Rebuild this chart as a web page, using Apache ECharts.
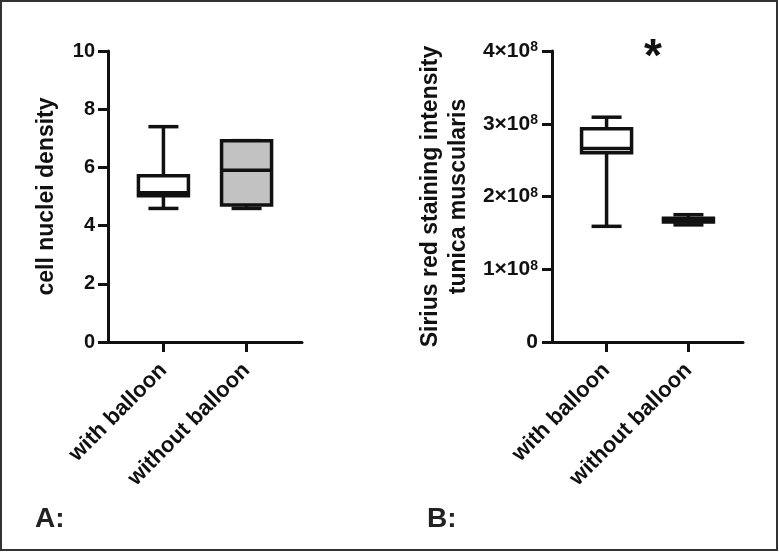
<!DOCTYPE html>
<html>
<head>
<meta charset="utf-8">
<script src="https://cdn.jsdelivr.net/npm/echarts@6/dist/echarts.min.js"></script>
<style>
  html, body { margin: 0; padding: 0; background: #fff; }
  #chart { width: 779px; height: 552px; }
</style>
</head>
<body>
<div id="chart"></div>
<script>
  // categories and box values (min, Q1, median, Q3, max)
  const categories = ['with balloon', 'without balloon']
  const nucleiWith = [4.59, 5.03, 5.13, 5.71, 7.40]
  const nucleiWithout = [4.59, 4.71, 5.90, 6.92, 6.92]
  const siriusWith = [1.59e8, 2.60e8, 2.66e8, 2.93e8, 3.09e8]
  const siriusWithout = [1.61e8, 1.65e8, 1.67e8, 1.70e8, 1.75e8]
  const boxFills = ['#ffffff', '#c2c2c2']

  const nucleiTicks = [0, 2, 4, 6, 8, 10]
  const siriusTicks = [0, 1e8, 2e8, 3e8, 4e8]

  // padded category axis so the two groups sit at 2/7 and 5/7 of the axis
  const xCats = ['', '', categories[0], '', '', categories[1], '', '']
  const showCat = (i) => i === 2 || i === 5

  const ink = '#111'
  const font = 'Liberation Sans, Arial, Helvetica, sans-serif'

  function renderBox(params, api) {
    const x = api.value(0)
    const px = [1, 2, 3, 4, 5].map(i => api.coord([x, api.value(i)]))
    const cx = px[0][0]
    const yMin = px[0][1], yQ1 = px[1][1], yMed = px[2][1], yQ3 = px[3][1], yMax = px[4][1]
    const boxHalf = 25
    const capHalf = 15
    const line = { stroke: ink, lineWidth: 3.5 }
    return {
      type: 'group',
      children: [
        { type: 'line', shape: { x1: cx, y1: yMax, x2: cx, y2: yQ3 }, style: line },
        { type: 'line', shape: { x1: cx, y1: yQ1, x2: cx, y2: yMin }, style: line },
        { type: 'line', shape: { x1: cx - capHalf, y1: yMax, x2: cx + capHalf, y2: yMax }, style: line },
        { type: 'line', shape: { x1: cx - capHalf, y1: yMin, x2: cx + capHalf, y2: yMin }, style: line },
        {
          type: 'rect',
          shape: { x: cx - boxHalf, y: yQ3, width: boxHalf * 2, height: yQ1 - yQ3 },
          style: { fill: boxFills[params.dataIndex], stroke: ink, lineWidth: 3.5 }
        },
        { type: 'line', shape: { x1: cx - boxHalf, y1: yMed, x2: cx + boxHalf, y2: yMed }, style: line }
      ]
    }
  }

  function xAxisFor(gridIndex) {
    return {
      type: 'category',
      gridIndex: gridIndex,
      data: xCats,
      boundaryGap: false,
      axisLine: { show: true, lineStyle: { color: ink, width: 3 } },
      axisTick: { show: true, interval: showCat, length: 10, lineStyle: { color: ink, width: 3 } },
      axisLabel: {
        interval: showCat,
        rotate: 45,
        margin: 25,
        color: ink,
        fontSize: 22,
        fontWeight: 'bold',
        fontFamily: font
      },
      splitLine: { show: false }
    }
  }

  const myChart = echarts.init(document.getElementById('chart'))
  const option = {
    backgroundColor: '#fff',
    animation: false,
    grid: [
      { left: 108, top: 51, width: 194, height: 291, outerBoundsMode: 'none' },
      { left: 552, top: 51, width: 191, height: 291, outerBoundsMode: 'none' }
    ],
    xAxis: [xAxisFor(0), xAxisFor(1)],
    yAxis: [
      {
        type: 'value',
        gridIndex: 0,
        min: nucleiTicks[0],
        max: nucleiTicks[nucleiTicks.length - 1],
        interval: nucleiTicks[1] - nucleiTicks[0],
        name: 'cell nuclei density',
        nameLocation: 'middle',
        nameGap: 50,
        nameTextStyle: { color: ink, fontSize: 23, fontWeight: 'bold', fontFamily: font },
        axisLine: { show: true, lineStyle: { color: ink, width: 3 } },
        axisTick: { show: true, length: 10, lineStyle: { color: ink, width: 3 } },
        axisLabel: { margin: 13, color: ink, fontSize: 20, fontWeight: 'bold', fontFamily: font },
        splitLine: { show: false }
      },
      {
        type: 'value',
        gridIndex: 1,
        min: siriusTicks[0],
        max: siriusTicks[siriusTicks.length - 1],
        interval: siriusTicks[1] - siriusTicks[0],
        name: 'Sirius red staining intensity\ntunica muscularis',
        nameLocation: 'middle',
        nameGap: 79,
        nameTextStyle: { color: ink, fontSize: 23, lineHeight: 28, fontWeight: 'bold', fontFamily: font },
        axisLine: { show: true, lineStyle: { color: ink, width: 3 } },
        axisTick: { show: true, length: 10, lineStyle: { color: ink, width: 3 } },
        axisLabel: {
          margin: 14,
          color: ink,
          fontWeight: 'bold',
          fontFamily: font,
          formatter: function (v) {
            if (v === 0) return '{n|0}'
            return '{n|' + (v / 1e8) + '×10}{s|8}'
          },
          rich: {
            n: { fontSize: 21, fontWeight: 'bold', color: ink, fontFamily: font },
            s: { fontSize: 14, fontWeight: 'bold', color: ink, fontFamily: font, verticalAlign: 'top' }
          }
        },
        splitLine: { show: false }
      }
    ],
    series: [
      {
        type: 'custom',
        xAxisIndex: 0,
        yAxisIndex: 0,
        renderItem: renderBox,
        encode: { x: 0, y: [1, 2, 3, 4, 5] },
        data: [[categories[0]].concat(nucleiWith), [categories[1]].concat(nucleiWithout)]
      },
      {
        type: 'custom',
        xAxisIndex: 1,
        yAxisIndex: 1,
        renderItem: renderBox,
        encode: { x: 0, y: [1, 2, 3, 4, 5] },
        data: [[categories[0]].concat(siriusWith), [categories[1]].concat(siriusWithout)]
      }
    ],
    graphic: [
      {
        type: 'rect',
        shape: { x: 1, y: 1, width: 776, height: 549 },
        style: { fill: 'none', stroke: '#333', lineWidth: 2 },
        silent: true
      },
      {
        type: 'text', left: 35, top: 505,
        style: { text: 'A:', fill: '#222', font: 'bold 28px ' + font }
      },
      {
        type: 'text', left: 427, top: 505,
        style: { text: 'B:', fill: '#222', font: 'bold 28px ' + font }
      },
      {
        type: 'text', left: 644, top: 35,
        style: { text: '*', fill: ink, font: 'bold 46px ' + font }
      }
    ]
  }
  myChart.setOption(option)
</script>
</body>
</html>
